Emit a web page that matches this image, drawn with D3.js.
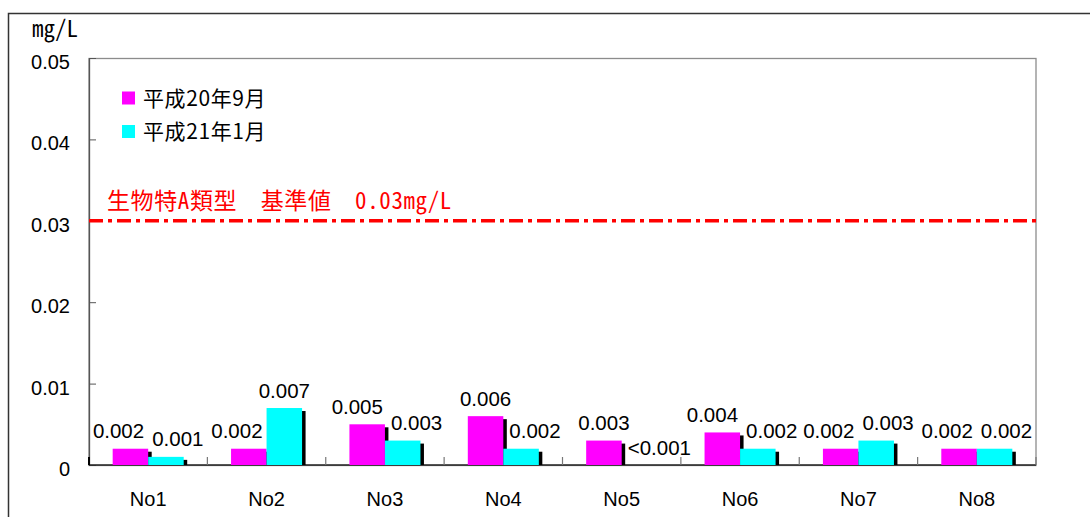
<!DOCTYPE html>
<html>
<head>
<meta charset="utf-8">
<script src="https://cdn.jsdelivr.net/npm/d3@7/dist/d3.min.js"></script>
<style>
  html, body { margin: 0; padding: 0; background: #fff; }
  svg { display: block; }
</style>
</head>
<body>
<svg id="chart" width="1090" height="517"></svg>
<script>
// Sampling points and measured concentrations (mg/L)
const categories = ["No1", "No2", "No3", "No4", "No5", "No6", "No7", "No8"];
const seriesNames = ["平成20年9月", "平成21年1月"];
const sep2008 = [0.002, 0.002, 0.005, 0.006, 0.003, 0.004, 0.002, 0.002];
const jan2009 = [0.001, 0.007, 0.003, 0.002, null, 0.002, 0.003, 0.002]; // null = below detection limit
const yTicks = [0, 0.01, 0.02, 0.03, 0.04, 0.05];
const standardValue = 0.03;
const standardLabel = "生物特A類型　基準値　0.03mg/L";
const belowLimitLabel = "<0.001";
const unitLabel = "mg/L";

const seriesColors = ["#ff00ff", "#00ffff"];
const svg = d3.select("#chart");

const plot = { left: 89, right: 1036, top: 58, bottom: 465 };

const y = d3.scaleLinear().domain([0, 0.05]).range([plot.bottom, plot.top]);
const x = d3.scaleBand().domain(categories).range([plot.left, plot.right]).padding(0);
const groupFrac = 0.6;
const xs = d3.scaleBand().domain([0, 1])
  .range([x.bandwidth() * (1 - groupFrac) / 2, x.bandwidth() * (1 + groupFrac) / 2]);

// Outer chart frame
svg.append("rect")
  .attr("x", 8.5).attr("y", 13.5).attr("width", 1200).attr("height", 600)
  .attr("fill", "none").attr("stroke", "#333").attr("stroke-width", 1.5);

// Plot frame
svg.append("rect")
  .attr("x", plot.left).attr("y", plot.top + 0.5)
  .attr("width", plot.right - plot.left).attr("height", plot.bottom - plot.top)
  .attr("fill", "none").attr("stroke", "#8c8c8c").attr("stroke-width", 1.3);

// Y axis
const yAxis = d3.axisLeft(y)
  .tickValues(yTicks)
  .tickSizeInner(-7).tickSizeOuter(0).tickPadding(19)
  .tickFormat(v => v === 0 ? "0" : d3.format(".2f")(v));
const gy = svg.append("g").attr("transform", `translate(${plot.left},0)`).call(yAxis);
gy.select(".domain").attr("stroke", "#555").attr("stroke-width", 1.3);
gy.selectAll(".tick line").attr("stroke", "#555");
gy.selectAll(".tick text")
  .attr("font-family", "'Liberation Sans', Arial, sans-serif")
  .attr("font-size", 20).attr("fill", "#000").attr("dy", "0.52em");

// X axis (labels at band centres)
const xAxis = d3.axisBottom(x).tickSize(0).tickPadding(28);
const gx = svg.append("g").attr("transform", `translate(0,${plot.bottom})`).call(xAxis);
gx.select(".domain").remove();
gx.selectAll(".tick text")
  .attr("font-family", "'Liberation Sans', Arial, sans-serif")
  .attr("font-size", 20).attr("fill", "#000").attr("dy", "0.66em");

// Baseline
svg.append("line")
  .attr("x1", plot.left).attr("x2", plot.right)
  .attr("y1", y(0)).attr("y2", y(0))
  .attr("stroke", "#222").attr("stroke-width", 1.5);

// Category separators, pointing up into the plot
const bounds = categories.map(c => x(c)).concat([x.range()[1]]);
svg.append("g").selectAll("line").data(bounds).join("line")
  .attr("x1", d => d).attr("x2", d => d)
  .attr("y1", y(0)).attr("y2", y(0) - 8)
  .attr("stroke", (d, i) => i === 0 ? "#000" : "#777")
  .attr("stroke-width", (d, i) => i === 0 ? 2 : 1.2);

// Bars with a small black drop shadow
const series = [sep2008, jan2009];
const shadowDx = 3.5, shadowDy = 3;
series.forEach((vals, s) => {
  const rows = categories.map((c, i) => ({ c, i, v: vals[i] })).filter(d => d.v != null);
  const g = svg.append("g");
  g.selectAll("rect.shadow").data(rows).join("rect")
    .attr("class", "shadow")
    .attr("x", d => x(d.c) + xs(s) + shadowDx)
    .attr("y", d => y(d.v) + shadowDy)
    .attr("width", xs.bandwidth())
    .attr("height", d => Math.max(0, y(0) - y(d.v) - shadowDy))
    .attr("fill", "#000");
  g.selectAll("rect.bar").data(rows).join("rect")
    .attr("class", "bar")
    .attr("x", d => x(d.c) + xs(s))
    .attr("y", d => y(d.v))
    .attr("width", xs.bandwidth())
    .attr("height", d => y(0) - y(d.v))
    .attr("fill", seriesColors[s]);
});

// Value labels, nudged sideways where they would collide with a neighbour
const labelFont = "'Liberation Sans', Arial, sans-serif";
const labelGap = 10.5, capH = 15;
const fmt = d3.format(".3f");
const lg = svg.append("g");
categories.forEach((c, i) => {
  const items = series.map((vals, s) => {
    const v = vals[i];
    const top = y(v == null ? 0 : v);
    const cx = x(c) + xs(s) + xs.bandwidth() / 2;
    const t = lg.append("text")
      .attr("font-family", labelFont).attr("font-size", 20.5)
      .attr("text-anchor", "middle").attr("fill", "#000")
      .text(v == null ? belowLimitLabel : fmt(v));
    return { t, cx, base: top - labelGap, top, w: t.node().getComputedTextLength(), dx: 0 };
  });
  const [m, k] = items;
  const magLeft = x(c) + xs(0), magRight = magLeft + xs.bandwidth();
  const cyanLeft = x(c) + xs(1);
  // first series label running into the taller second bar
  if (m.base > k.top && m.cx + m.w / 2 > cyanLeft - 4) {
    m.dx = (cyanLeft - 4) - (m.cx + m.w / 2);
  }
  // second series label running into the taller first bar
  if (k.base > m.top && k.cx - k.w / 2 < magRight + 6) {
    k.dx = (magRight + 6) - (k.cx - k.w / 2);
  }
  // labels overlapping each other
  if (Math.abs(m.base - k.base) < capH + 2) {
    const overlap = (m.cx + m.dx + m.w / 2) - (k.cx + k.dx - k.w / 2) + 8;
    if (overlap > 0) {
      if (k.dx > 0) m.dx -= overlap;
      else if (m.dx < 0) k.dx += overlap;
      else { m.dx -= overlap / 2; k.dx += overlap / 2; }
    }
  }
  items.forEach(d => d.t.attr("x", d.cx + d.dx).attr("y", d.base));
});

// Environmental standard line
svg.append("line")
  .attr("x1", plot.left).attr("x2", plot.right)
  .attr("y1", y(standardValue)).attr("y2", y(standardValue))
  .attr("stroke", "#ff0000").attr("stroke-width", 3.5)
  .attr("stroke-dasharray", "14,5,4,5");
svg.append("text")
  .attr("x", 107).attr("y", y(standardValue) - 12)
  .attr("font-family", "'Noto Sans Mono CJK JP', 'Noto Sans CJK JP', sans-serif")
  .attr("font-size", 23).attr("letter-spacing", 0.6).attr("fill", "#ff0000")
  .text(standardLabel);

// Unit label
svg.append("text")
  .attr("x", 32).attr("y", 37)
  .attr("font-family", "'Noto Sans Mono CJK JP', 'DejaVu Sans Mono', monospace")
  .attr("font-size", 23).attr("fill", "#000")
  .text(unitLabel);

// Legend
const legend = svg.append("g");
seriesNames.forEach((name, s) => {
  const ly = 98 + s * 33.5;
  legend.append("rect")
    .attr("x", 122).attr("y", ly - 6.5).attr("width", 13).attr("height", 13)
    .attr("fill", seriesColors[s]);
  legend.append("text")
    .attr("x", 143).attr("y", ly).attr("dy", "0.36em")
    .attr("font-family", "'Noto Sans CJK JP', sans-serif")
    .attr("font-size", 21).attr("letter-spacing", 0.6).attr("fill", "#000")
    .text(name);
});
</script>
</body>
</html>
